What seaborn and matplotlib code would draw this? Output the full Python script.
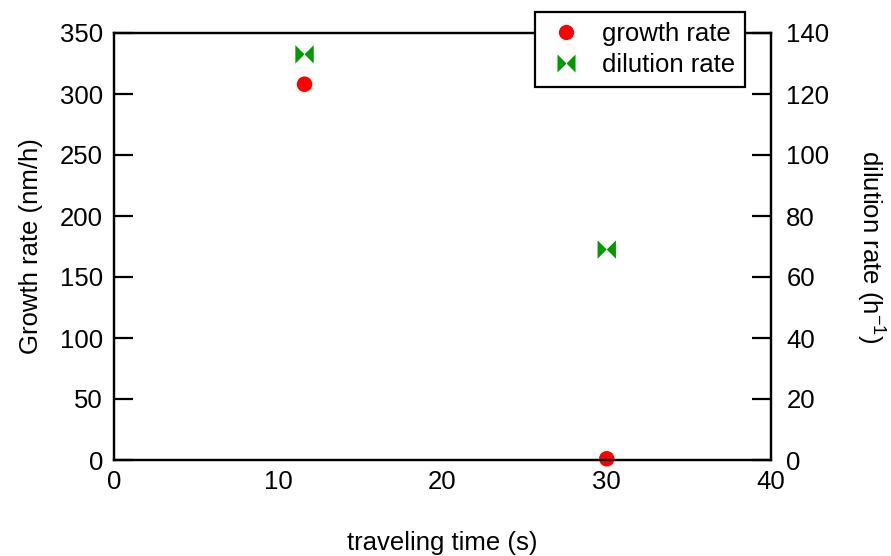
import matplotlib
matplotlib.use("Agg")
import matplotlib.pyplot as plt
import seaborn as sns
import pandas as pd
from matplotlib.path import Path
from matplotlib.lines import Line2D

travel_time = [11.6, 30.0]
growth_rate = [308, 1]
dilution_rate = [133, 69]

x_ticks = [0, 10, 20, 30, 40]
left_ticks = [0, 50, 100, 150, 200, 250, 300, 350]
right_ticks = [0, 20, 40, 60, 80, 100, 120, 140]

sns.set_theme(style="white")
plt.rcParams["font.family"] = ["Liberation Sans", "DejaVu Sans"]
plt.rcParams["mathtext.fontset"] = "custom"
plt.rcParams["mathtext.rm"] = "Liberation Sans"
plt.rcParams["text.color"] = "black"
FS = 18.5

# bow-tie marker: two triangles meeting at the centre
bowtie = Path([(-1, -1), (0, 0), (-1, 1), (-1, -1), (1, -1), (0, 0), (1, 1), (1, -1)],
              [Path.MOVETO, Path.LINETO, Path.LINETO, Path.CLOSEPOLY,
               Path.MOVETO, Path.LINETO, Path.LINETO, Path.CLOSEPOLY])

RED = "#ff0000"
GREEN = "#009900"

df = pd.DataFrame({"t": travel_time, "g": growth_rate, "d": dilution_rate})

fig = plt.figure(figsize=(8.91, 5.56), dpi=100)
ax = fig.add_axes([114 / 891, 1 - 460 / 556, 657 / 891, 427 / 556])
ax2 = ax.twinx()

sns.scatterplot(data=df, x="t", y="g", ax=ax, color=RED, s=125,
                edgecolor="none", marker="o", zorder=5, clip_on=False)
sns.scatterplot(data=df, x="t", y="d", ax=ax2, color=GREEN, s=175,
                edgecolor="none", marker=bowtie, zorder=5, clip_on=False)

ax.set_xlim(0, 40)
ax.set_ylim(0, 350)
ax2.set_ylim(0, 140)
ax.set_xticks(x_ticks)
ax.set_yticks(left_ticks)
ax2.set_yticks(right_ticks)

for a in (ax, ax2):
    for s in a.spines.values():
        s.set_linewidth(1.6)
        s.set_color("black")
    a.tick_params(direction="in", length=14, width=1.6, color="black",
                  labelsize=FS, labelcolor="black")
    a.grid(False)
ax.tick_params(axis="x", pad=7, top=False)
ax.tick_params(axis="y", pad=8)
ax2.tick_params(axis="y", pad=11)

ax.set_xlabel("traveling time (s)", fontsize=FS, labelpad=27, color="black")
ax.set_ylabel("Growth rate (nm/h)", fontsize=FS, labelpad=12, color="black")
ax2.set_ylabel(r"dilution rate (h$^{\mathrm{-1}}$)", fontsize=FS, rotation=270,
               labelpad=42, color="black")

handles = [
    Line2D([], [], linestyle="none", marker="o", color=RED, markersize=11,
           markeredgewidth=0),
    Line2D([], [], linestyle="none", marker=bowtie, color=GREEN, markersize=13,
           markeredgewidth=0),
]
leg = ax2.legend(handles, ["growth rate", "dilution rate"], loc="upper right",
                 bbox_to_anchor=(745 / 891, 1 - 12 / 556),
                 bbox_transform=fig.transFigure, fontsize=FS, frameon=True,
                 fancybox=False, framealpha=1, edgecolor="black",
                 borderpad=0.4, handletextpad=0.6, labelspacing=0.25,
                 handlelength=1.6, borderaxespad=0, labelcolor="black")
leg.get_frame().set_linewidth(1.6)
leg.set_zorder(10)

fig.savefig("out.png", dpi=100)
